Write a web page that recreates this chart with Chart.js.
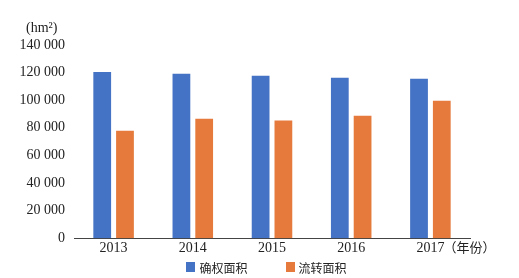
<!DOCTYPE html>
<html>
<head>
<meta charset="utf-8">
<script src="https://cdn.jsdelivr.net/npm/chart.js@4"></script>
<style>
  html, body { margin: 0; padding: 0; background: #fff; }
  #wrap { width: 519px; height: 278px; position: relative; }
  #legend {
    position: absolute; left: 7px; top: 258px; width: 519px; height: 18px;
    display: flex; justify-content: center; align-items: center;
    font: 12px "Noto Sans CJK SC", sans-serif; color: #222;
  }
  .legend-item { display: flex; align-items: center; }
  .legend-item + .legend-item { margin-left: 38px; }
  .legend-box { width: 9px; height: 10px; margin-right: 4px; }
</style>
</head>
<body>
<div id="wrap">
  <canvas id="areaChart"></canvas>
  <div id="legend"></div>
</div>
<script>
// Data
const years = ['2013', '2014', '2015', '2016', '2017'];
const confirmedArea = [120500, 119100, 117700, 116200, 115500];
const transferArea = [77800, 86600, 85200, 88800, 99600];
const yTicks = [0, 20000, 40000, 60000, 80000, 100000, 120000, 140000];
const unitLabel = '(hm²)';
const xUnitLabel = '（年份）';

const fontFamily = '"Liberation Serif", "Noto Sans CJK SC", serif';

// extra labels: y unit at the top left, x unit after the last year
const unitPlugin = {
  id: 'unitLabels',
  afterDraw(chart) {
    const ctx = chart.ctx;
    const x = chart.scales.x;
    ctx.save();
    ctx.fillStyle = '#222';
    ctx.font = '14px ' + fontFamily;
    ctx.textBaseline = 'middle';
    ctx.textAlign = 'left';
    ctx.fillText(unitLabel, 26, 28);
    const lastX = x.getPixelForValue(years.length - 1);
    ctx.font = '13px "Noto Sans CJK SC", sans-serif';
    ctx.fillText(xUnitLabel, lastX + 13, 247);
    ctx.restore();
  }
};

function buildLegend(chart) {
  const container = document.getElementById('legend');
  container.innerHTML = '';
  chart.data.datasets.forEach(ds => {
    const item = document.createElement('div');
    item.className = 'legend-item';
    const box = document.createElement('span');
    box.className = 'legend-box';
    box.style.background = ds.backgroundColor;
    const text = document.createElement('span');
    text.textContent = ds.label;
    item.appendChild(box);
    item.appendChild(text);
    container.appendChild(item);
  });
}

function initChart() {
  const ctx = document.getElementById('areaChart').getContext('2d');
  const chart = new Chart(ctx, {
    type: 'bar',
    data: {
      labels: years,
      datasets: [{
        label: '确权面积',
        data: confirmedArea,
        backgroundColor: '#4472C4',
        categoryPercentage: 0.575,
        barPercentage: 0.78
      }, {
        label: '流转面积',
        data: transferArea,
        backgroundColor: '#E57A3C',
        categoryPercentage: 0.575,
        barPercentage: 0.78
      }]
    },
    options: {
      responsive: true,
      maintainAspectRatio: false,
      animation: false,
      layout: {
        padding: { top: 45, right: 49, bottom: 19, left: 0 }
      },
      plugins: {
        legend: { display: false },
        tooltip: { enabled: false }
      },
      scales: {
        x: {
          grid: { display: false, drawTicks: false },
          border: { display: true, color: '#444', width: 1 },
          ticks: {
            color: '#222',
            font: { size: 14, family: fontFamily },
            padding: 2,
            maxRotation: 0
          }
        },
        y: {
          min: 0,
          max: 140000,
          afterBuildTicks: (scale) => {
            scale.ticks = yTicks.map(v => ({ value: v }));
          },
          afterFit: (scale) => {
            scale.width = 74;
          },
          grid: { display: false, drawTicks: false },
          border: { display: false },
          ticks: {
            color: '#222',
            font: { size: 14, family: fontFamily },
            padding: 9,
            callback: value => value === 0 ? '0' :
              Math.floor(value / 1000) + ' ' + String(value % 1000).padStart(3, '0')
          }
        }
      }
    },
    plugins: [unitPlugin]
  });
  buildLegend(chart);
}

window.addEventListener('load', () => {
  initChart();
});
</script>
</body>
</html>
